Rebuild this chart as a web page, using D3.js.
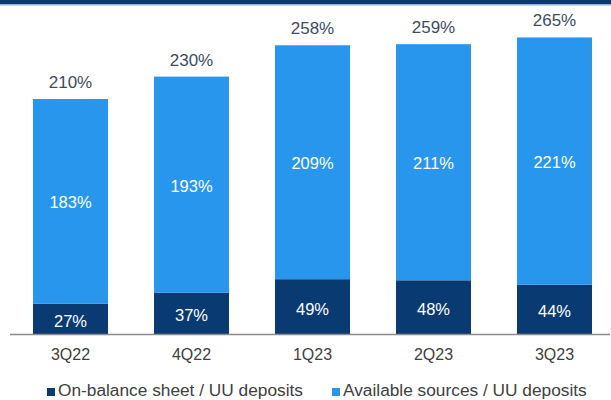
<!DOCTYPE html>
<html>
<head>
<meta charset="utf-8">
<script src="https://cdn.jsdelivr.net/npm/d3@7"></script>
<style>
  html, body { margin: 0; padding: 0; background: #fff; }
  svg { display: block; font-family: "Liberation Sans", Arial, sans-serif; }
</style>
</head>
<body>
<svg id="chart" width="611" height="400"></svg>
<script>
// Quarterly liquidity coverage of uninsured deposits
const quarters = ["3Q22", "4Q22", "1Q23", "2Q23", "3Q23"];
const onBalance = [27, 37, 49, 48, 44];
const availableSources = [183, 193, 209, 211, 221];
const totals = [210, 230, 258, 259, 265];
const seriesNames = ["On-balance sheet / UU deposits", "Available sources / UU deposits"];

const colors = { dark: "#0a3a72", light: "#2896ec", labelDark: "#3f4b5e", axisText: "#404040" };

const svg = d3.select("#chart");
const W = 611, H = 400;
const baseY = 334;

// Top brand band
svg.append("rect").attr("x", 0).attr("y", 0).attr("width", W).attr("height", 4).attr("fill", "#0b3a72");
svg.append("rect").attr("x", 0).attr("y", 4).attr("width", W).attr("height", 1.5).attr("fill", "#8fb3d6");

const x = d3.scaleBand().domain(quarters).range([10, 615]).paddingInner(0.38).paddingOuter(0.19);
const y = d3.scaleLinear().domain([0, 210]).range([baseY, 99]);

const rows = quarters.map((q, i) => ({ q, on: onBalance[i], avail: availableSources[i], total: totals[i] }));
const stack = d3.stack().keys(["on", "avail"])(rows);

const layerColors = [colors.dark, colors.light];
stack.forEach((layer, li) => {
  svg.append("g").selectAll("rect").data(layer).join("rect")
    .attr("x", d => x(d.data.q))
    .attr("y", d => y(d[1]))
    .attr("width", x.bandwidth())
    .attr("height", d => y(d[0]) - y(d[1]))
    .attr("fill", layerColors[li]);

  svg.append("g").selectAll("text").data(layer).join("text")
    .attr("x", d => x(d.data.q) + x.bandwidth() / 2)
    .attr("y", d => (y(d[0]) + y(d[1])) / 2 + (li === 0 ? 2 : 1))
    .attr("text-anchor", "middle")
    .attr("dominant-baseline", "central")
    .attr("fill", "#ffffff")
    .attr("font-size", 16.5)
    .text(d => (li === 0 ? d.data.on : d.data.avail) + "%");
});

// Totals above bars
svg.append("g").selectAll("text").data(rows).join("text")
  .attr("x", d => x(d.q) + x.bandwidth() / 2)
  .attr("y", d => y(d.total) - 11)
  .attr("text-anchor", "middle")
  .attr("fill", colors.labelDark)
  .attr("font-size", 17)
  .text(d => d.total + "%");

// Category axis
const axis = svg.append("g").attr("transform", `translate(0,${baseY})`)
  .call(d3.axisBottom(x).tickSize(0).tickPadding(15));
axis.select(".domain").remove();
axis.selectAll("text").attr("font-size", 16).attr("fill", colors.axisText)
  .attr("font-family", "Liberation Sans, Arial, sans-serif");
svg.append("line").attr("x1", 10).attr("x2", 610).attr("y1", baseY + 0.5).attr("y2", baseY + 0.5)
  .attr("stroke", "#8c8c8c").attr("stroke-width", 1.5);

// Legend
const legendX = [47, 332];
const legend = svg.append("g").selectAll("g").data(seriesNames).join("g")
  .attr("transform", (d, i) => `translate(${legendX[i]},396)`);
legend.append("rect").attr("x", 0).attr("y", -8).attr("width", 8).attr("height", 8)
  .attr("fill", (d, i) => layerColors[i]);
legend.append("text").attr("x", 11).attr("y", 0)
  .attr("font-size", 17.3).attr("fill", colors.axisText).text(d => d);
</script>
</body>
</html>
